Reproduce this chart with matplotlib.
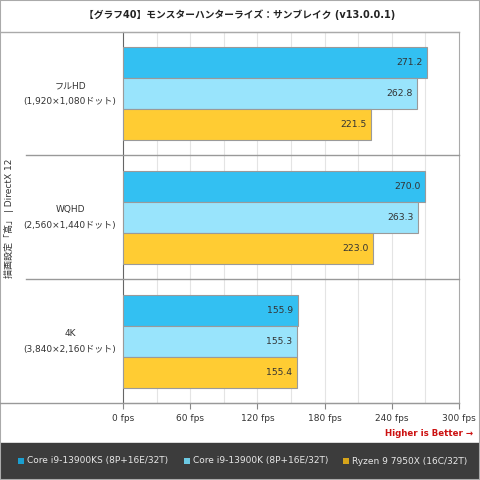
import numpy as np
import matplotlib
matplotlib.use("Agg")
import matplotlib.pyplot as plt
from matplotlib.patches import Rectangle
from matplotlib.lines import Line2D

plt.rcParams['font.family'] = ['DejaVu Sans', 'Noto Sans CJK JP']

title = "【グラフ40】モンスターハンターライズ：サンブレイク (v13.0.0.1)"
ylabel = "描画設定「高」 | DirectX 12"
groups = ["フルHD", "WQHD", "4K"]
group_res = ["(1,920×1,080ドット)", "(2,560×1,440ドット)", "(3,840×2,160ドット)"]
series = ["Core i9-13900KS (8P+16E/32T)", "Core i9-13900K (8P+16E/32T)", "Ryzen 9 7950X (16C/32T)"]
ks_vals = [271.2, 270.0, 155.9]
k_vals = [262.8, 263.3, 155.3]
x_vals = [221.5, 223.0, 155.4]
xticks = [0, 60, 120, 180, 240, 300]

bar_colors = ["#33c0f2", "#99e4fc", "#ffcc33"]
legend_colors = ["#1b9fd0", "#6cc9e3", "#d6a41a"]

W, H = 480, 480
fig = plt.figure(figsize=(4.8, 4.8), dpi=100)

L, R, T, B = 123, 459, 32, 403
ax = fig.add_axes([L / W, 1 - B / H, (R - L) / W, (B - T) / H])

y = np.arange(len(groups))
h = 0.25
for i, vals in enumerate([ks_vals, k_vals, x_vals]):
    pos = y + (i - 1) * h
    ax.barh(pos, vals, height=h, color=bar_colors[i], edgecolor="#9a9a9a", linewidth=0.8, zorder=3)
    for p, v in zip(pos, vals):
        ax.text(v - 4, p, f"{v:.1f}", ha="right", va="center", fontsize=6.7, color="#333333", zorder=4)

ax.set_xlim(0, 300)
ax.set_ylim(2.5, -0.5)
for gx in np.arange(30, 300, 30):
    ax.axvline(gx, color="#e4e4e4", linewidth=0.8, zorder=1)
ax.set_xticks(xticks)
ax.set_xticklabels([f"{t} fps" for t in xticks], fontsize=6.5, color="#333333")
ax.tick_params(axis="x", length=4, color="#888888", pad=4)
ax.set_yticks([])
for s in ["top", "right", "bottom"]:
    ax.spines[s].set_color("#aaaaaa")
ax.spines["left"].set_color("#666666")
ax.spines["bottom"].set_color("#999999")

# left-hand lines, extended outside the axes
fig.add_artist(Line2D([0, R / W], [1 - T / H, 1 - T / H], color="#aaaaaa", lw=1))
fig.add_artist(Line2D([0, R / W], [1 - B / H, 1 - B / H], color="#999999", lw=1))
for sep in [155, 279]:
    fig.add_artist(Line2D([26 / W, R / W], [1 - sep / H, 1 - sep / H], color="#999999", lw=1))

# group labels
for gi, (g, r) in enumerate(zip(groups, group_res)):
    cy = T + (B - T) * (gi + 0.5) / 3
    fig.text(70 / W, 1 - (cy - 8) / H, g, ha="center", va="center", fontsize=6.5, color="#333333")
    fig.text(70 / W, 1 - (cy + 8) / H, r, ha="center", va="center", fontsize=6.5, color="#333333")

fig.text(9 / W, 1 - 218 / H, ylabel, rotation=90, ha="center", va="center", fontsize=6.5, color="#333333")
fig.text(240 / W, 1 - 15 / H, title, ha="center", va="center", fontsize=7, fontweight="bold", color="#222222")
fig.text(473 / W, 1 - 434 / H, "Higher is Better →", ha="right", va="center", fontsize=6.2,
         fontweight="bold", color="#cc1111")

# legend bar
fig.add_artist(Rectangle((0, 0), 1, 37 / H, transform=fig.transFigure, color="#3c3c3c", zorder=0))
leg_x = [18, 184, 343]
for lx, name, c in zip(leg_x, series, legend_colors):
    fig.add_artist(Rectangle((lx / W, 1 - 464 / H), 6 / W, 6 / H, transform=fig.transFigure,
                             facecolor=c, edgecolor="none"))
    fig.text((lx + 9) / W, 1 - 461 / H, name, ha="left", va="center", fontsize=6.5, color="#e8e8e8")

fig.add_artist(Rectangle((0, 0), 1, 1, transform=fig.transFigure, fill=False, edgecolor="#aaaaaa", lw=1.5))

fig.savefig("out.png", dpi=100)
